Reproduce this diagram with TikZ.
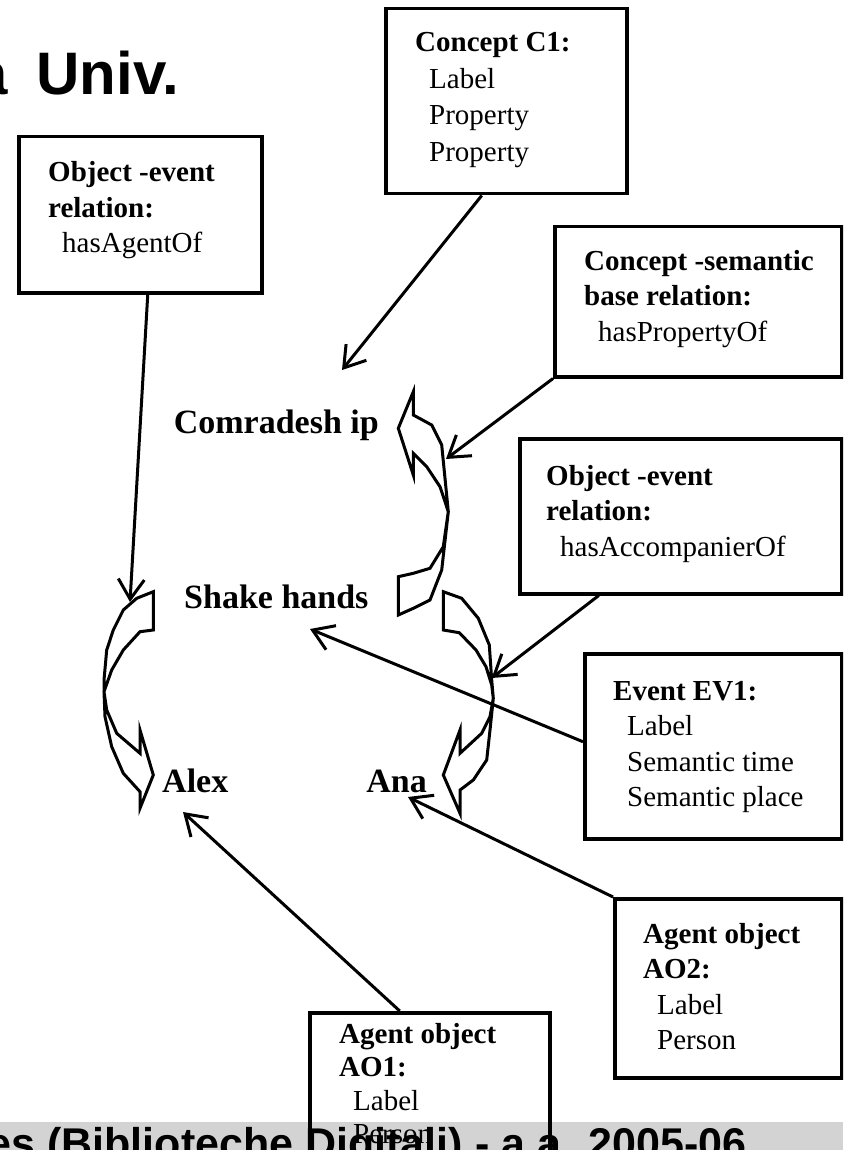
\documentclass[tikz,border=0pt]{standalone}
\usepackage{fontspec}
\setmainfont{Liberation Serif}
\newfontfamily\arialfont{Liberation Sans}
\usetikzlibrary{arrows.meta,calc}
\definecolor{bandgray}{RGB}{211,211,211}
\tikzset{
  box/.style={draw, line width=3.5pt, inner sep=0pt, anchor=north west},
  boxtxt/.style={anchor=base west, inner sep=0pt, font=\fontsize{29}{35.5}\selectfont},
  word/.style={inner sep=0pt, font=\bfseries\fontsize{34}{40}\selectfont},
  conn/.style={line width=3pt, -{Straight Barb[length=20pt,width=26pt]}},
  curvearr/.style={draw, line width=3pt, line join=miter},
}
\newcommand{\ind}{\hspace*{14pt}}
\begin{document}
\begin{tikzpicture}[x=1pt,y=-1pt]
\useasboundingbox (0,0) rectangle (843,1150);
\begin{scope}
\clip (0,0) rectangle (843,1150);
% footer band
\fill[bandgray] (0,1122) rectangle (843,1150);
\node[inner sep=0pt, anchor=base east, font=\arialfont\bfseries\fontsize{43}{50}\selectfont] (footer) at (747,1158) {es (Biblioteche Digitali) - a.a. 2005-06};
% title fragment
\node[inner sep=0pt, anchor=base east, font=\arialfont\bfseries\fontsize{60}{70}\selectfont] (title) at (179,95) {a\hspace{12pt} Univ.};

% boxes
\node[box, minimum width=241pt, minimum height=185pt] (c1) at (384,7) {};
\node[box, minimum width=243pt, minimum height=156pt] (rela) at (17,135) {};
\node[box, minimum width=287pt, minimum height=150pt] (sem) at (553,225) {};
\node[box, minimum width=322pt, minimum height=155pt] (acc) at (518,437) {};
\node[box, minimum width=257pt, minimum height=185pt] (ev) at (583,652) {};
\node[box, minimum width=227pt, minimum height=179pt] (ao2) at (613,897) {};
\node[box, minimum width=240pt, minimum height=175pt] (ao1) at (308,1011) {};

% box texts
\node[boxtxt, font=\fontsize{29}{36.5}\selectfont] (c1t) at (415,52) {\vtop{\hbox{\textbf{Concept C1:}}\hbox{\ind Label}\hbox{\ind Property}\hbox{\ind Property}}};
\node[boxtxt] (relat) at (48,182) {\vtop{\hbox{\textbf{Object -event}}\hbox{\textbf{relation:}}\hbox{\ind hasAgentOf}}};
\node[boxtxt] (semt) at (584,270) {\vtop{\hbox{\textbf{Concept -semantic}}\hbox{\textbf{base relation:}}\hbox{\ind hasPropertyOf}}};
\node[boxtxt] (acct) at (546,485) {\vtop{\hbox{\textbf{Object -event}}\hbox{\textbf{relation:}}\hbox{\ind hasAccompanierOf}}};
\node[boxtxt] (evt) at (613,700) {\vtop{\hbox{\textbf{Event EV1:}}\hbox{\ind Label}\hbox{\ind Semantic time}\hbox{\ind Semantic place}}};
\node[boxtxt] (ao2t) at (643,943) {\vtop{\hbox{\textbf{Agent object}}\hbox{\textbf{AO2:}}\hbox{\ind Label}\hbox{\ind Person}}};
\node[boxtxt, font=\fontsize{29}{33.5}\selectfont] (ao1t) at (339,1043) {\vtop{\hbox{\textbf{Agent object}}\hbox{\textbf{AO1:}}\hbox{\ind Label}\hbox{\ind Person}}};

% words
\node[word, anchor=base east] (comr) at (379,433) {Comradesh ip};
\node[word, anchor=base west] (shake) at (184,608) {Shake hands};
\node[word, anchor=base west] (alex) at (162,792) {Alex};
\node[word, anchor=base east] (ana) at (427,792) {Ana};

% curved block arrows
\draw[curvearr] (398.3,428.3) -- (413.3,391.7) -- (413.3,415) -- (431.7,425) -- (441.7,445) -- (448.3,511.7)
  -- (443.3,546.7) -- (430,568.3) -- (413.3,573.3) -- (398.3,576.7) -- (398.3,615) -- (413.3,608.3)
  -- (430,600) -- (441.7,570) -- (448.3,511.7) -- (440,486.7) -- (426.7,466.7) -- (413.3,453.3)
  -- (413.3,475) -- cycle;
\draw[curvearr] (153.3,591.7) -- (136.7,598.3) -- (123.3,610) -- (113.3,630) -- (106.7,650) -- (104,680)
  -- (104,691.7) -- (105,716.7) -- (111.7,746.7) -- (123.3,773.3) -- (140,791.7) -- (140,808.3)
  -- (153.3,775) -- (140,730) -- (140,753.3) -- (116.7,733.3) -- (106.7,710) -- (104,691.7)
  -- (111.7,670) -- (123.3,650) -- (140,631.7) -- (153.3,630) -- cycle;
\draw[curvearr] (443.3,591.7) -- (461.7,598.3) -- (478.3,618.3) -- (489.3,645) -- (491.7,680) -- (493.3,698.3)
  -- (490,730) -- (486.7,760) -- (473.3,780) -- (460,790) -- (460,813.3) -- (443.3,775) -- (460,730)
  -- (460,753.3) -- (481.7,733.3) -- (490,716.7) -- (493.3,698.3) -- (491.7,685) -- (486,666.7)
  -- (476,650) -- (459.3,632.7) -- (443.3,630) -- cycle;

% arrow targets
\coordinate (tipA) at (130,602);
\coordinate (tipC) at (342,370);
\coordinate (tipS) at (446,459);
\coordinate (tipAc) at (491.7,678);
\coordinate (tipE) at (310,629);
\coordinate (tipA2) at (408,797);
\coordinate (tipA1) at (183,812);

% connectors
\draw[conn] ([xshift=7.5pt]rela.south) -- (tipA);
\draw[conn] ([xshift=-24.5pt]c1.south) -- (tipC);
\draw[conn] (sem.south west) -- (tipS);
\draw[conn] ([xshift=-82pt]acc.south) -- (tipAc);
\draw[conn] ([yshift=4.5pt]ev.west) -- (tipE);
\draw[conn] (ao2.north west) -- (tipA2);
\draw[conn] ([xshift=-30pt]ao1.north) -- (tipA1);
\end{scope}
\end{tikzpicture}
\end{document}
